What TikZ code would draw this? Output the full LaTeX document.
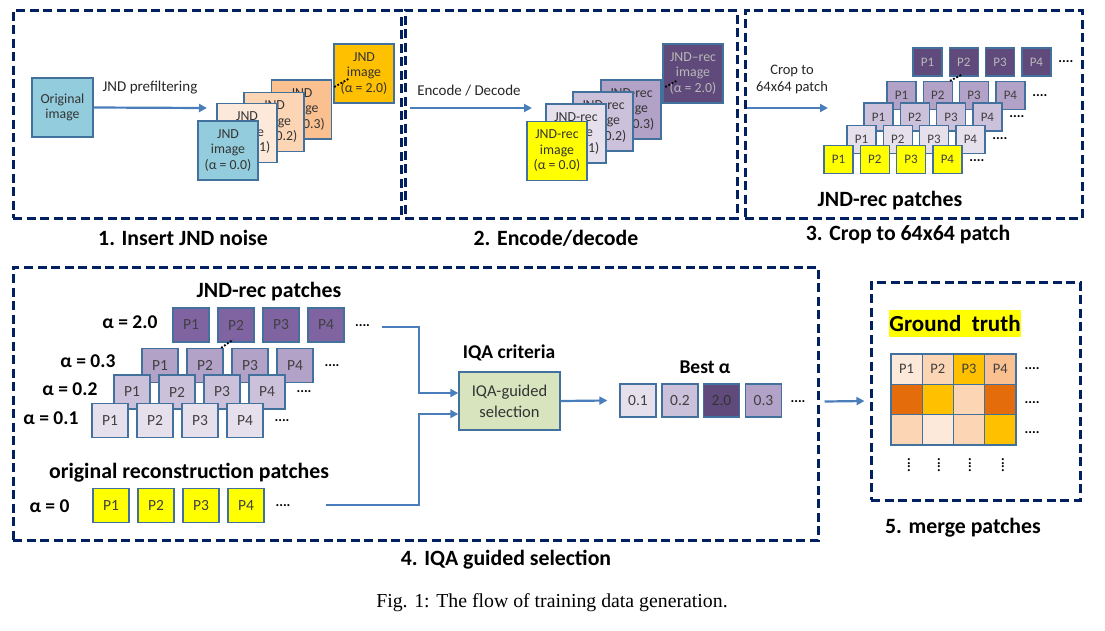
\documentclass[tikz,border=0pt]{standalone}
\usepackage{fontspec}
\setmainfont{Carlito}
\newfontfamily\capfont{Liberation Serif}
\usetikzlibrary{arrows.meta, calc}

\definecolor{frameblue}{HTML}{002060}
\definecolor{edgeblue}{HTML}{41719C}
\definecolor{arrowblue}{HTML}{4A7EBB}
\definecolor{skyfill}{HTML}{93CDDD}
\definecolor{peachA}{HTML}{FDE9D9}
\definecolor{peachB}{HTML}{FCD5B5}
\definecolor{peachC}{HTML}{FAC090}
\definecolor{goldfill}{HTML}{FFC000}
\definecolor{darkorange}{HTML}{E46C0A}
\definecolor{lilacA}{HTML}{E5E0EC}
\definecolor{lilacB}{HTML}{CCC1DA}
\definecolor{lilacC}{HTML}{B3A2C7}
\definecolor{purpleM}{HTML}{8064A2}
\definecolor{purpleD}{HTML}{604A7B}
\definecolor{sagefill}{HTML}{D7E4BD}
\definecolor{gtyellow}{HTML}{FFFF00}

\begin{document}
\begin{tikzpicture}[x=1pt, y=-1pt,
    frame/.style={draw=frameblue, line width=3pt, dash pattern=on 9pt off 4.5pt, inner sep=0},
    img/.style={draw=edgeblue, line width=1.4pt, minimum width=60, minimum height=59, inner sep=0,
        align=center, text=black!80, font=\fontsize{13.8}{15.5}\selectfont},
    ptch/.style={draw=edgeblue, line width=1.3pt, minimum width=29, minimum height=28, inner sep=0,
        text=black!75, font=\fontsize{13}{15}\selectfont},
    bigpatch/.style={ptch, minimum width=36, minimum height=34, font=\fontsize{15.5}{17}\selectfont},
    cell/.style={draw=edgeblue, line width=1.3pt, minimum width=31.25, minimum height=30.33, inner sep=0,
        text=black!75, font=\fontsize{14.5}{16}\selectfont},
    title/.style={font=\bfseries\fontsize{21.8}{25}\selectfont},
    head/.style={font=\bfseries\fontsize{19.5}{22}\selectfont},
    lbl/.style={align=center, text=black!85, font=\fontsize{15}{18}\selectfont},
    more/.style={inner sep=0, font=\bfseries\fontsize{14}{14}\selectfont},
    arr/.style={draw=arrowblue, line width=2.2pt, -{Triangle[length=8pt, width=8pt]}},
    dotline/.style={line width=1.8pt, dash pattern=on 1.8pt off 1.8pt}]

    \useasboundingbox (0,0) rectangle (1105,630);

    % Frames
    \node[frame, minimum width=388, minimum height=208] (f1) at (207,114) {};
    \node[frame, minimum width=332, minimum height=208] (f2) at (571,114) {};
    \node[frame, minimum width=337, minimum height=208] (f3) at (913.5,114) {};
    \node[frame, minimum width=805, minimum height=273] (f4) at (415.5,403.5) {};
    \node[frame, minimum width=209, minimum height=218] (f5) at (975.5,391) {};

    % Titles
    \node[title] (t1) at (183,238) {1. Insert JND noise};
    \node[title] (t2) at (556,238) {2. Encode/decode};
    \node[title] (t3) at (908,235) {3. Crop to 64x64 patch};
    \node[title] (t4) at (506,560) {4. IQA guided selection};
    \node[title] (t5) at (963,528) {5. merge patches};

    % 1. Insert JND noise
    \node[img, fill=skyfill, minimum width=61] (orig) at (62.5,107.5) {Original\\image};
    \node[lbl] (pref) at (150,88) {JND prefiltering};
    \coordinate (e1) at (207,108);
    \draw[arr] (orig.east) -- (e1);
    \node[img, fill=goldfill] (j20) at (364,73.5) {JND\\image\\(α = 2.0)};
    \node[img, fill=peachC] (j3) at (301.5,109.5) {JND\\image\\(α = 0.3)};
    \node[img, fill=peachB] (j2) at (274,122) {JND\\image\\(α = 0.2)};
    \node[img, fill=peachA] (j1) at (247,133) {JND\\image\\(α = 0.1)};
    \node[img, fill=skyfill] (j0) at (228,150.5) {JND\\image\\(α = 0.0)};
    \draw[dotline] ($(j20.west)+(1,13.5)$) -- ($(j20.west)+(15,5.5)$);

    % 2. Encode/decode
    \node[lbl] (enc) at (469,91) {Encode / Decode};
    \coordinate (s2) at (410,108);
    \coordinate (e2) at (532,108);
    \draw[arr] (s2) -- (e2);
    \node[img, fill=purpleD, text=white!72!black] (r20) at (693,73.5) {JND--rec\\image\\(α = 2.0)};
    \node[img, fill=lilacC] (r3) at (631,109.5) {JND-rec\\image\\(α = 0.3)};
    \node[img, fill=lilacB] (r2) at (603,121.5) {JND-rec\\image\\(α = 0.2)};
    \node[img, fill=lilacA] (r1) at (576,133.5) {JND-rec\\image\\(α = 0.1)};
    \node[img, fill=gtyellow] (r0) at (557,151) {JND-rec\\image\\(α = 0.0)};
    \draw[dotline] ($(r20.west)+(3,13.5)$) -- ($(r20.west)+(14,7.5)$);

    % 3. Crop to 64x64 patch
    \node[lbl, font=\fontsize{14.5}{17}\selectfont] (crop) at (792,79) {Crop to\\64x64 patch};
    \coordinate (s3) at (747,108);
    \coordinate (e3) at (828,108);
    \draw[arr] (s3) -- (e3);
    \foreach \i in {1,...,4} {
        \node[ptch, fill=purpleD, text=white!72!black] (c20-\i) at ({927.5+36.3*(\i-1)},62) {P\i};
        \node[ptch, fill=lilacC] (c3-\i) at ({901.5+36.3*(\i-1)},95.5) {P\i};
        \node[ptch, fill=lilacB] (c2-\i) at ({878.5+36.3*(\i-1)},117) {P\i};
        \node[ptch, fill=lilacA] (c1-\i) at ({861.5+36.3*(\i-1)},139.5) {P\i};
        \node[ptch, fill=gtyellow] (c0-\i) at ({838.5+36.3*(\i-1)},159.5) {P\i};
    }
    \node[more] (c20-d) at ($(c20-4)+(29.5,0)$) {....};
    \node[more] (c3-d) at ($(c3-4)+(29.5,0)$) {....};
    \node[more] (c2-d) at ($(c2-4)+(29.5,0)$) {....};
    \node[more] (c1-d) at ($(c1-4)+(29.5,-1)$) {....};
    \node[more] (c0-d) at ($(c0-4)+(29.5,1)$) {....};
    \draw[dotline] ($(c3-2.north east)+(-3,0)$) -- ($(c20-2.south)+(-2,-2)$);
    \node[title] (c-head) at (890,201) {JND-rec patches};

    % 4. IQA guided selection
    \node[title] (q-head) at (269,292) {JND-rec patches};
    \node[head, anchor=east] (a20) at (161,322) {α = 2.0};
    \node[head, anchor=east] (a3) at (119,361) {α = 0.3};
    \node[head, anchor=east] (a2) at (101,389) {α = 0.2};
    \node[head, anchor=east] (a1) at (82,418) {α = 0.1};
    \foreach \i in {1,...,4} {
        \node[bigpatch, fill=purpleM] (q20-\i) at ({191+45*(\i-1)},325) {P\i};
        \node[bigpatch, fill=lilacC] (q3-\i) at ({160+45*(\i-1)},365.5) {P\i};
        \node[bigpatch, fill=lilacB] (q2-\i) at ({132+45*(\i-1)},392) {P\i};
        \node[bigpatch, fill=lilacA] (q1-\i) at ({110+45*(\i-1)},420.5) {P\i};
        \node[bigpatch, fill=gtyellow] (q0-\i) at ({111+45*(\i-1)},505.5) {P\i};
    }
    \node[more] (q20-d) at ($(q20-4)+(36.5,1)$) {....};
    \node[more] (q3-d) at ($(q3-4)+(37,0)$) {....};
    \node[more] (q2-d) at ($(q2-4)+(37,0)$) {....};
    \node[more] (q1-d) at ($(q1-4)+(37,0)$) {....};
    \node[more] (q0-d) at ($(q0-4)+(37,0)$) {....};
    \draw[dotline] ($(q3-2.north east)+(-2.5,0)$) -- ($(q20-2.south)+(-3,-3)$);
    \node[title] (o-head) at (189,473) {original reconstruction patches};
    \node[head, anchor=east] (a0) at (73,506) {α = 0};

    \node[draw=edgeblue, fill=sagefill, line width=1.4pt, minimum width=101, minimum height=58, inner sep=0,
        align=center, text=black!80, font=\fontsize{16.5}{21}\selectfont] (iqa) at (509.5,401) {IQA-guided\\selection};
    \node[head] (iqa-head) at (509,353) {IQA criteria};
    \coordinate (s4a) at (382,327);
    \coordinate (s4b) at (326,505);
    \draw[arr] (s4a) -| ($(iqa.west)+(-39,-8)$) -- ($(iqa.west)+(0,-8)$);
    \draw[arr] (s4b) -| ($(iqa.west)+(-39,13)$) -- ($(iqa.west)+(0,13)$);

    \node[bigpatch, minimum height=33, fill=lilacA] (b1) at (638,400.5) {0.1};
    \node[bigpatch, minimum height=33, fill=lilacB] (b2) at (680,400.5) {0.2};
    \node[bigpatch, minimum height=33, fill=purpleD, text=black!80] (b3) at (721.5,400.5) {2.0};
    \node[bigpatch, minimum height=33, fill=lilacC] (b4) at (763.5,400.5) {0.3};
    \node[more] (b-d) at (798,402) {....};
    \node[head] (best) at (705,367) {Best α};
    \draw[arr] (iqa.east) -- ($(b1.west)+(-12,0)$);

    % 5. merge patches
    \draw[arr] ($(f4.east)+(5,-2)$) -- ($(f5.west)+(-5,10)$);
    \node[fill=gtyellow, minimum width=130, minimum height=27, inner sep=0,
        font=\bfseries\fontsize{23}{26}\selectfont] (gt) at (955,323.5) {Ground\ \ truth};
    \foreach \k/\col in {1/peachA, 2/peachB, 3/goldfill, 4/peachC}
        \node[cell, fill=\col] (g1-\k) at ({891+31.25*(\k-0.5)},369.2) {P\k};
    \foreach \k/\col in {1/darkorange, 2/goldfill, 3/peachB, 4/darkorange}
        \node[cell, fill=\col] (g2-\k) at ({891+31.25*(\k-0.5)},399.5) {};
    \foreach \k/\col in {1/peachB, 2/peachA, 3/peachB, 4/goldfill}
        \node[cell, fill=\col] (g3-\k) at ({891+31.25*(\k-0.5)},429.8) {};
    \node[more] (g1-d) at (1032,369) {....};
    \node[more] (g2-d) at (1032,403) {....};
    \node[more] (g3-d) at (1032,433) {....};
    \foreach \x [count=\k] in {909, 939, 970, 1003}
        \node[more, rotate=90] (gv-\k) at (\x,465) {....};

    % Caption
    \node[font=\capfont\fontsize{19.8}{23}\selectfont] (cap) at (552,603) {Fig. 1: The flow of training data generation.};
\end{tikzpicture}
\end{document}
